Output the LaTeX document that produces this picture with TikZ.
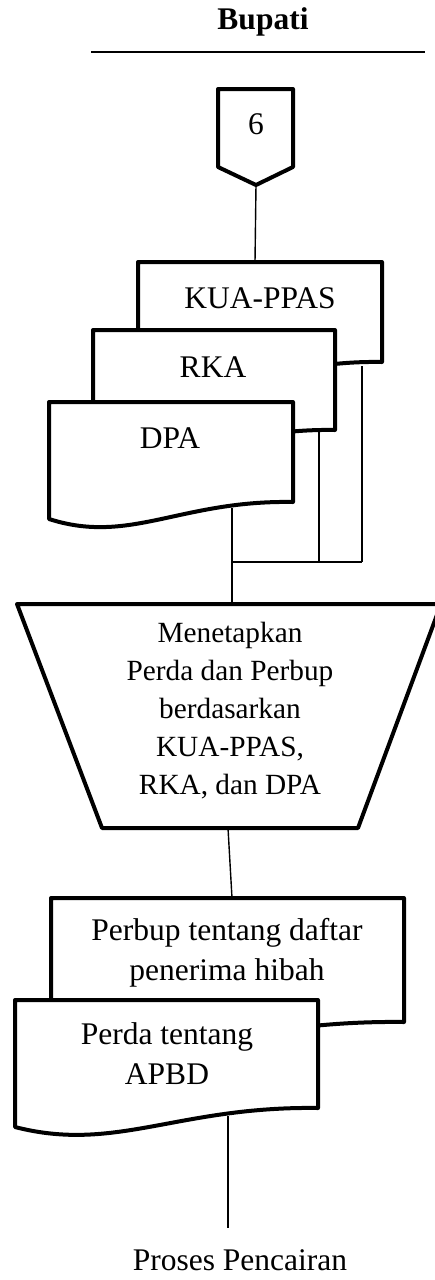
\documentclass[tikz,border=0pt]{standalone}
\usepackage{fontspec}
\setmainfont{Liberation Serif}
\begin{document}
\begin{tikzpicture}[x=1pt,y=-1pt,
  shapeline/.style={draw=black,line width=4pt,line join=round,fill=white},
  link/.style={draw=black,line width=1.4pt},
  lbl/.style={inner sep=0pt,align=center,font=\fontsize{31.5}{40}\selectfont},
  trlbl/.style={inner sep=0pt,align=center,font=\fontsize{29.3}{38}\selectfont}]
\useasboundingbox (0,0) rectangle (434,1280);

% document symbol: left, right, top, bottom-right, bottom-left
\newcommand{\docsym}[5]{%
  \path[shapeline] (#1,#3) -- (#2,#3) -- (#2,#4)
    .. controls ({#1+0.537*(#2-#1)},{#4-2}) and ({#1+0.332*(#2-#1)},{#5+26}) .. (#1,#5) -- cycle;}

% lane header
\node[lbl,font=\fontsize{31.5}{40}\selectfont\bfseries] (lane) at (263,22) {Bupati};
\coordinate (laneL) at (91,52);
\coordinate (laneR) at (425,52);
\draw[line width=1.6pt] (laneL) -- (laneR);

% off-page connector 6
\path[shapeline] (218,89) -- (293,89) -- (293,167) -- (256,185) -- (218,167) -- cycle;
\node[lbl] (six) at (256,124) {6};
\coordinate (sixB) at (256,185);

% stacked documents KUA-PPAS / RKA / DPA
\docsym{138}{382}{262}{362}{380}
\coordinate (kuaT) at (255,262);
\coordinate (kuaB) at (362,366);
\node[lbl] (kua) at (260,298) {KUA-PPAS};

\docsym{93}{335}{330}{430}{447}
\coordinate (rkaB) at (319,432);
\node[lbl] (rka) at (213,367) {RKA};

\docsym{49}{293}{402}{502}{519}
\coordinate (dpaB) at (232,508);
\node[lbl] (dpa) at (170,438) {DPA};

\draw[link] (sixB) -- (kuaT);

% merge of the three documents
\coordinate (mL) at (232,562);
\coordinate (mM) at (319,562);
\coordinate (mR) at (362,562);
\draw[link] (kuaB) -- (mR);
\draw[link] (rkaB) -- (mM);
\draw[link] (mL) -- (mR);

% manual operation
\path[shapeline] (17,604) -- (441,604) -- (358,828) -- (102,828) -- cycle;
\coordinate (opT) at (232,604);
\coordinate (opB) at (228,828);
\node[trlbl] (op) at (230,711) {Menetapkan\\Perda dan Perbup\\berdasarkan\\KUA-PPAS,\\RKA, dan DPA};
\draw[link] (dpaB) -- (opT);

% output documents
\docsym{51}{404}{898}{1022}{1041}
\coordinate (pbT) at (232,898);
\node[lbl] (perbup) at (227,953) {Perbup tentang daftar\\penerima hibah};

\docsym{15}{318}{1000}{1108}{1127}
\coordinate (pdB) at (228,1116);
\node[lbl] (perda) at (167,1054) {Perda tentang\\APBD};

\draw[link] (opB) -- (pbT);

% end
\node[lbl] (end) at (240,1260) {Proses Pencairan};
\coordinate (endT) at (228,1228);
\draw[link] (pdB) -- (endT);
\end{tikzpicture}
\end{document}
